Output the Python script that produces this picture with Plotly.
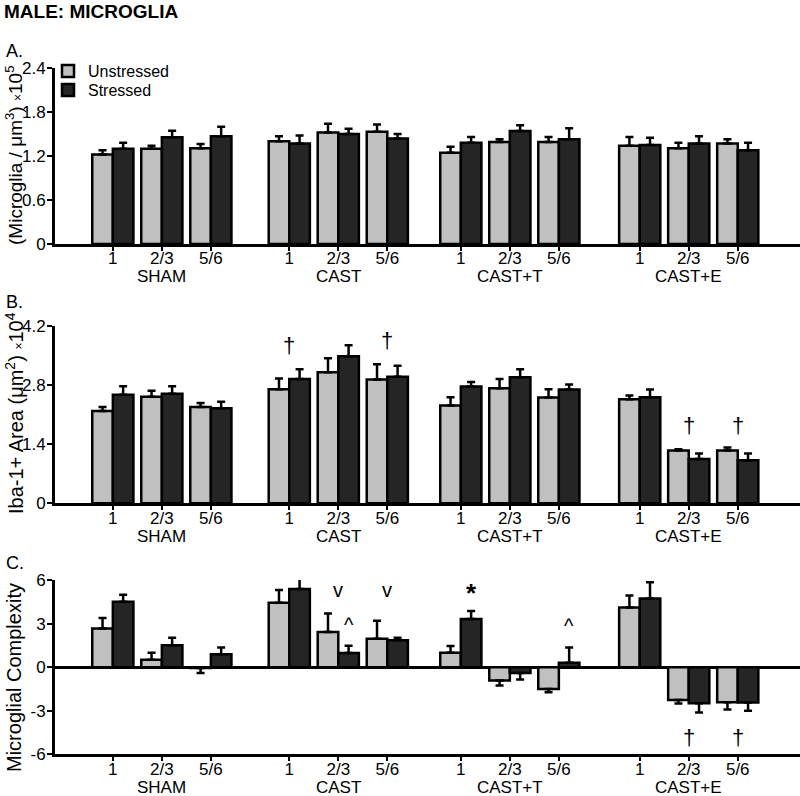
import plotly.graph_objects as go

# ---------------- data ----------------
groups = ["SHAM", "CAST", "CAST+T", "CAST+E"]
timepoints = ["1", "2/3", "5/6"]

A_unstressed = [1.22, 1.30, 1.305, 1.40, 1.52, 1.53, 1.245, 1.39, 1.39, 1.34, 1.305, 1.37]
A_unstressed_err = [0.06, 0.04, 0.06, 0.07, 0.12, 0.10, 0.08, 0.04, 0.07, 0.12, 0.075, 0.06]
A_stressed = [1.30, 1.455, 1.47, 1.37, 1.50, 1.44, 1.38, 1.54, 1.43, 1.35, 1.37, 1.28]
A_stressed_err = [0.08, 0.09, 0.13, 0.11, 0.07, 0.06, 0.08, 0.08, 0.15, 0.10, 0.10, 0.10]

B_unstressed = [2.18, 2.52, 2.28, 2.70, 3.10, 2.93, 2.31, 2.72, 2.50, 2.46, 1.25, 1.25]
B_unstressed_err = [0.10, 0.14, 0.09, 0.25, 0.33, 0.36, 0.20, 0.22, 0.20, 0.09, 0.03, 0.07]
B_stressed = [2.57, 2.59, 2.25, 2.94, 3.48, 2.99, 2.76, 2.98, 2.69, 2.51, 1.05, 1.02]
B_stressed_err = [0.20, 0.18, 0.15, 0.23, 0.26, 0.26, 0.11, 0.19, 0.12, 0.18, 0.13, 0.16]

C_unstressed = [2.66, 0.51, -0.05, 4.43, 2.42, 1.96, 1.00, -0.92, -1.50, 4.11, -2.26, -2.42]
C_unstressed_err = [0.73, 0.49, 0.35, 0.88, 1.28, 1.23, 0.45, 0.35, 0.23, 0.83, 0.25, 0.49]
C_stressed = [4.50, 1.50, 0.88, 5.38, 0.97, 1.85, 3.32, -0.41, 0.30, 4.73, -2.49, -2.44]
C_stressed_err = [0.49, 0.53, 0.48, 0.74, 0.51, 0.18, 0.54, 0.44, 1.06, 1.11, 0.63, 0.56]

# significance marks: (panel, group index, timepoint index, where, symbol, y value)
sig_marks = [
    ("B", 1, 0, "pair", "†", 3.74),
    ("B", 1, 1, "pair", "v", 4.22),
    ("B", 1, 2, "pair", "†", 3.84),
    ("B", 3, 1, "pair", "†", 1.85),
    ("B", 3, 2, "pair", "†", 1.85),
    ("C", 1, 1, "pair", "v", 5.31),
    ("C", 1, 1, "stressed", "^", 2.89),
    ("C", 1, 2, "pair", "v", 5.31),
    ("C", 2, 0, "stressed", "*", 5.10),
    ("C", 2, 2, "stressed", "^", 2.82),
    ("C", 3, 1, "pair", "†", -4.87),
    ("C", 3, 2, "pair", "†", -4.87),
]

# ---------------- layout helpers ----------------
W, H = 800, 796
FONT = "Arial, Liberation Sans, sans-serif"
group_offsets = [0.0, 3.6, 7.1, 10.75]
xpos = [group_offsets[g] + t for g in range(len(groups)) for t in range(len(timepoints))]
xticktext = [tp for _ in groups for tp in timepoints]

def py(pix):
    return 1 - pix / H

panels = {
    "A": ("", [0, 2.4001], [0, 0.6, 1.2, 1.8, 2.4], ["0", "0.6", "1.2", "1.8", "2.4"], (244, 68), 276),
    "B": ("2", [0, 4.2001], [0, 1.4, 2.8, 4.2], ["0", "1.4", "2.8", "4.2"], (503.3, 325.7), 536),
    "C": ("3", [-6.0001, 6.0001], [-6, -3, 0, 3, 6], ["-6", "-3", "0", "3", "6"], (754.3, 580), 787),
}
data = {
    "A": (A_unstressed, A_unstressed_err, A_stressed, A_stressed_err),
    "B": (B_unstressed, B_unstressed_err, B_stressed, B_stressed_err),
    "C": (C_unstressed, C_unstressed_err, C_stressed, C_stressed_err),
}

GRAY = "#c0c0c0"
DARK = "#252525"

fig = go.Figure()

def err_arrays(vals, errs):
    plus = [e if v >= 0 else 0 for v, e in zip(vals, errs)]
    minus = [0 if v >= 0 else e for v, e in zip(vals, errs)]
    return plus, minus

for name, (suf, yr, tv, tt, (ybot, ytop), grow) in panels.items():
    un, une, st, ste = data[name]
    for vals, errs, color, label, leg in [(un, une, GRAY, "Unstressed", "legend"),
                                          (st, ste, DARK, "Stressed", "legend2")]:
        plus, minus = err_arrays(vals, errs)
        fig.add_trace(go.Bar(
            x=xpos, y=vals, name=label,
            marker=dict(color=color, line=dict(color="black", width=2.5)),
            error_y=dict(type="data", symmetric=False, array=plus, arrayminus=minus,
                         color="black", thickness=2.5, width=4),
            xaxis="x" + suf, yaxis="y" + suf,
            showlegend=(name == "A"), legend=leg,
            cliponaxis=False, hoverinfo="skip",
        ))
    xa = dict(
        domain=[55 / W, 1], range=[-1.18, 14.02], anchor="y" + suf, automargin=False,
        tickmode="array", tickvals=xpos, ticktext=xticktext,
        tickfont=dict(family=FONT, size=17, color="black"),
        showline=True, linecolor="black", linewidth=3,
        ticks="outside", ticklen=4, tickwidth=1.5, tickcolor="black",
        ticklabelstandoff=-7,
        showgrid=False, zeroline=False,
    )
    ya = dict(
        domain=[py(ybot), py(ytop)], range=yr, anchor="x" + suf, automargin=False,
        tickmode="array", tickvals=tv, ticktext=tt,
        tickfont=dict(family=FONT, size=17, color="black"),
        showline=True, linecolor="black", linewidth=3,
        ticks="outside", ticklen=5, tickwidth=2, tickcolor="black",
        ticklabelstandoff=-2,
        showgrid=False,
        zeroline=(name == "C"), zerolinecolor="black", zerolinewidth=2.5,
    )
    fig.update_layout(**{"xaxis" + suf: xa, "yaxis" + suf: ya})

annotations = []
for name, (suf, yr, tv, tt, (ybot, ytop), grow) in panels.items():
    for g, gname in enumerate(groups):
        annotations.append(dict(
            x=group_offsets[g] + 1, y=py(grow), xref="x" + suf, yref="paper",
            text=gname, showarrow=False, xanchor="center", yanchor="middle",
            font=dict(family=FONT, size=17, color="black"),
        ))

for name, g, t, where, sym, yv in sig_marks:
    suf = panels[name][0]
    x = group_offsets[g] + t + (0.21 if where == "stressed" else 0.0)
    size = {"†": 22, "v": 20, "^": 20, "*": 26}[sym]
    txt = "<b>*</b>" if sym == "*" else sym
    annotations.append(dict(
        x=x, y=yv, xref="x" + suf, yref="y" + suf, text=txt, showarrow=False,
        xanchor="center", yanchor="middle", font=dict(family=FONT, size=size, color="black"),
    ))

annotations.append(dict(x=2 / W, y=py(12), xref="paper", yref="paper", text="<b>MALE: MICROGLIA</b>",
                        showarrow=False, xanchor="left", yanchor="middle",
                        font=dict(family=FONT, size=19, color="black")))
for lab, ypix in [("A.", 51), ("B.", 302), ("C.", 563)]:
    annotations.append(dict(x=4 / W, y=py(ypix), xref="paper", yref="paper", text=lab,
                            showarrow=False, xanchor="left", yanchor="middle",
                            font=dict(family=FONT, size=18, color="black")))

ytitles = [
    ("(Microglia / μm<sup>3</sup>) <span style='font-size:12px'>×</span>10<sup>5</sup>", 155, 19),
    ("Iba-1+ Area (μm<sup>2</sup>) <span style='font-size:12px'>×</span>10<sup>4</sup>", 413, 20),
    ("Microglial Complexity", 678, 20),
]
for txt, ypix, fs in ytitles:
    annotations.append(dict(x=14 / W, y=py(ypix), xref="paper", yref="paper", text=txt,
                            showarrow=False, textangle=-90, xanchor="center", yanchor="middle",
                            font=dict(family=FONT, size=fs, color="black")))

legend_common = dict(xanchor="left", yanchor="top",
                     font=dict(family=FONT, size=16, color="black"),
                     bgcolor="rgba(0,0,0,0)", itemclick=False, itemdoubleclick=False)

fig.update_layout(
    width=W, height=H,
    margin=dict(l=0, r=0, t=0, b=0, autoexpand=False),
    paper_bgcolor="white", plot_bgcolor="white",
    barmode="group", bargap=0.16, bargroupgap=0.0,
    annotations=annotations,
    legend=dict(x=48 / W, y=py(54), **legend_common),
    legend2=dict(x=48 / W, y=py(73), **legend_common),
    font=dict(family=FONT, color="black"),
    hovermode=False,
)

fig.write_html("out.html", config={"displayModeBar": False},
               post_script="document.body.style.margin='0px';document.body.style.overflow='hidden';")
